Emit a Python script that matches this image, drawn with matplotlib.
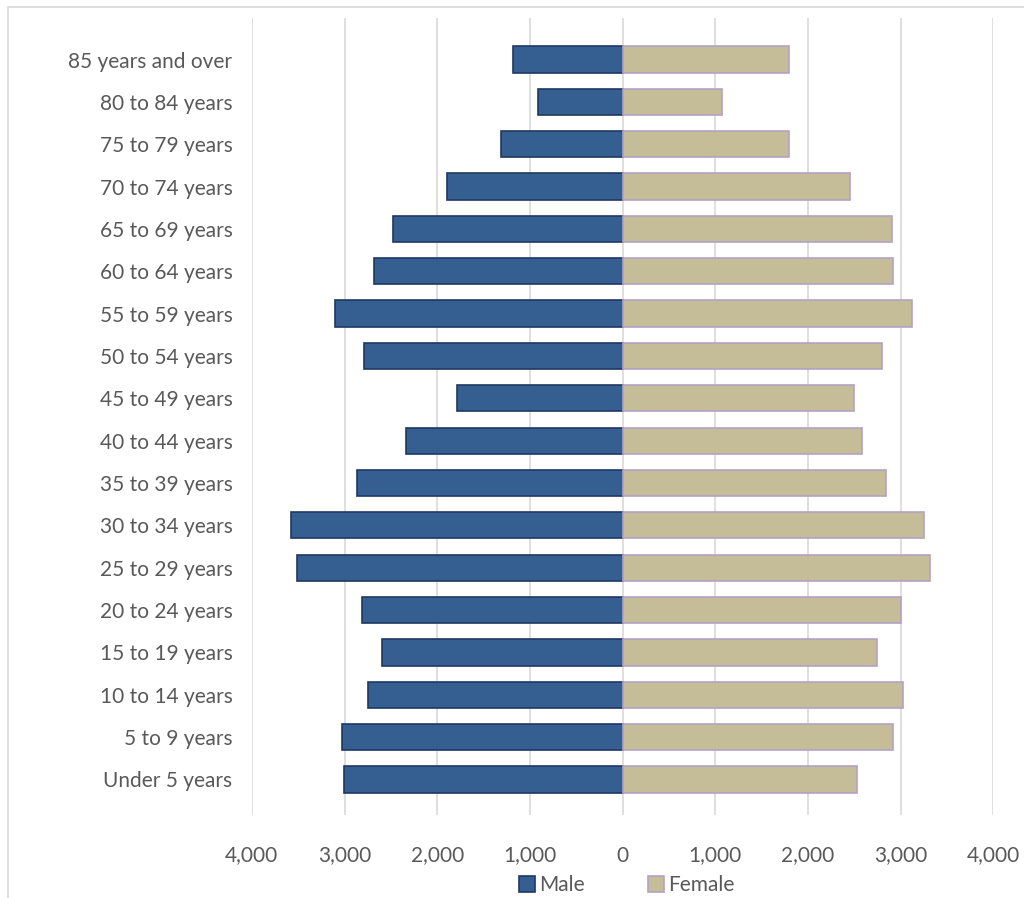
import numpy as np
import matplotlib.pyplot as plt
from matplotlib.ticker import FuncFormatter
from matplotlib.patches import Rectangle

ages = ["Under 5 years", "5 to 9 years", "10 to 14 years", "15 to 19 years",
        "20 to 24 years", "25 to 29 years", "30 to 34 years", "35 to 39 years",
        "40 to 44 years", "45 to 49 years", "50 to 54 years", "55 to 59 years",
        "60 to 64 years", "65 to 69 years", "70 to 74 years", "75 to 79 years",
        "80 to 84 years", "85 years and over"]
male = [3010, 3030, 2750, 2600, 2810, 3510, 3580, 2870, 2340, 1790,
        2790, 3100, 2680, 2480, 1890, 1310, 910, 1180]
female = [2530, 2920, 3030, 2750, 3000, 3320, 3250, 2840, 2580, 2500,
          2800, 3120, 2920, 2910, 2450, 1800, 1070, 1800]

plt.rcParams['font.family'] = ['Lato', 'DejaVu Sans']
txt = '#595959'

fig = plt.figure(figsize=(10.24, 8.98), dpi=100)
ax = fig.add_axes([0.246, 0.0924, 0.724, 0.888])

y = np.arange(len(ages))
ax.barh(y, [-v for v in male], height=0.62, color='#355F91', edgecolor='#1F3864',
        linewidth=1.2, label='Male', zorder=3)
ax.barh(y, female, height=0.62, color='#C4BD97', edgecolor='#B3A2C7',
        linewidth=1.2, label='Female', zorder=3)

ax.set_xlim(-4000, 4000)
ax.set_ylim(-0.84, 17.99)
ax.set_xticks(np.arange(-4000, 4001, 1000))
ax.xaxis.set_major_formatter(FuncFormatter(lambda v, p: f"{abs(int(v)):,}"))
ax.set_yticks(y)
ax.set_yticklabels(ages)
ax.tick_params(axis='both', length=0, labelsize=15, colors=txt)
ax.tick_params(axis='x', pad=22)
ax.tick_params(axis='y', pad=14)
ax.grid(axis='x', color='#D9D9D9', linewidth=1.2, zorder=0)
for s in ax.spines.values():
    s.set_visible(False)

fig.legend(loc='lower center', bbox_to_anchor=(0.612, -0.018), ncol=2, frameon=False,
           fontsize=15, handlelength=0.8, handleheight=0.8, columnspacing=3,
           handletextpad=0.2, labelcolor=txt)

fig.patches.append(Rectangle((8 / 1024, -0.01), 1.02, 1 - 7 / 898 + 0.01,
                             transform=fig.transFigure, fill=False,
                             edgecolor='#D9D9D9', linewidth=1.2))

fig.savefig('out.png', dpi=100)
